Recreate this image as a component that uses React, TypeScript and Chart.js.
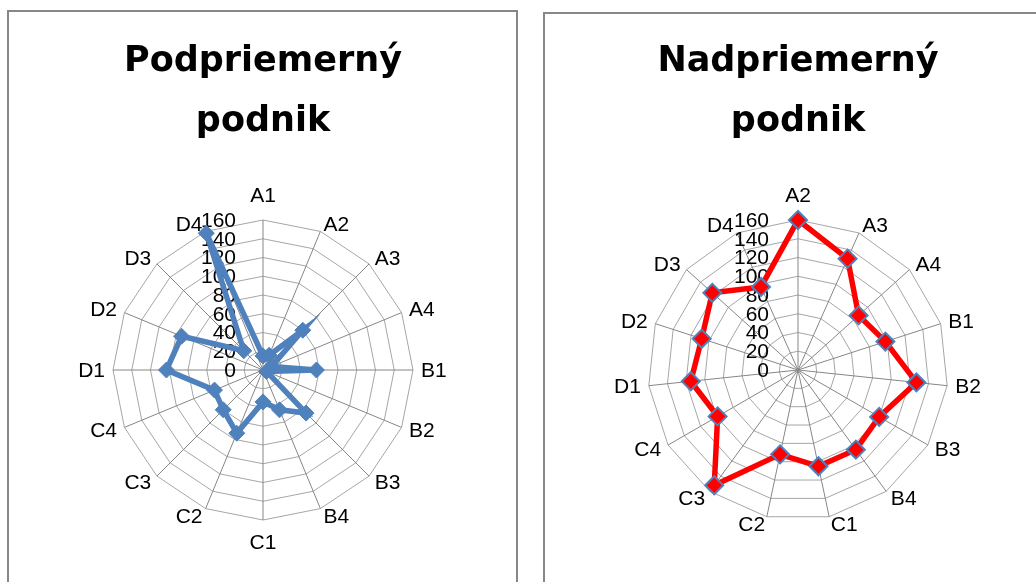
import React, { useEffect, useRef } from "react";
import { Chart, registerables } from "chart.js";

Chart.register(...registerables);

// ---------- data ----------
const LEFT_TITLE = ["Podpriemerný", "podnik"];
const LEFT_LABELS = ["A1", "A2", "A3", "A4", "B1", "B2", "B3", "B4", "C1", "C2", "C3", "C4", "D1", "D2", "D3", "D4"];
const LEFT_VALUES = [15, 17, 60, 10, 57, 4, 65, 46, 34, 73, 60, 56, 103, 94, 29, 158];

const RIGHT_TITLE = ["Nadpriemerný", "podnik"];
const RIGHT_LABELS = ["A2", "A3", "A4", "B1", "B2", "B3", "B4", "C1", "C2", "C3", "C4", "D1", "D2", "D3", "D4"];
const RIGHT_VALUES = [160, 130, 87, 98, 127, 100, 105, 105, 92, 152, 99, 115, 108, 123, 97];

const TICK_VALUES = [0, 20, 40, 60, 80, 100, 120, 140, 160];

const LABEL_FONT = '21px "Liberation Sans"';

// Excel-like placement of tick labels and category labels, using the radial scale's positions
const labelsPlugin = {
  id: "excelLabels",
  beforeDatasetsDraw(chart: any, _args: any, opts: any) {
    const scale = chart.scales.r;
    const ctx = chart.ctx;
    ctx.save();
    ctx.fillStyle = "#000";
    ctx.font = LABEL_FONT;

    // tick labels, left of the vertical axis
    ctx.textAlign = "right";
    ctx.textBaseline = "middle";
    TICK_VALUES.forEach((v) => {
      const d = scale.getDistanceFromCenterForValue(v);
      ctx.fillText(String(v), scale.xCenter - (opts.offset ?? 28), scale.yCenter - d + 1);
    });

    // category labels
    const labels: string[] = chart.data.labels;
    labels.forEach((lab, i) => {
      let deg = (scale.getIndexAngle(i) * 180) / Math.PI;
      deg = ((deg % 360) + 360) % 360;
      const isTop = Math.abs(deg) < 0.5 || Math.abs(deg - 360) < 0.5;
      const isBottom = Math.abs(deg - 180) < 0.5;
      if (isTop || isBottom) {
        const p = scale.getPointPosition(i, scale.drawingArea + 11);
        ctx.textAlign = "center";
        ctx.fillText(lab, p.x, p.y + (isTop ? -12.5 : 12.5));
      } else {
        const p = scale.getPointPosition(i, scale.drawingArea + 8);
        ctx.textAlign = deg < 180 ? "left" : "right";
        ctx.fillText(lab, p.x, p.y + 1);
      }
    });
    ctx.restore();
  },
};

type Cfg = {
  title: string[];
  labels: string[];
  values: number[];
  lineColor: string;
  pointFill: string;
  pointBorder: string;
  pointRadius: number;
  pointBorderWidth: number;
  padding: { left: number; right: number; top: number; bottom: number };
  titlePadTop: number;
  titlePadBottom: number;
  width: number;
  height: number;
  tickOffset: number;
};

function RadarBox({ cfg }: { cfg: Cfg }) {
  const ref = useRef<HTMLCanvasElement | null>(null);
  useEffect(() => {
    if (!ref.current) return;
    const chart = new Chart(ref.current, {
      type: "radar",
      data: {
        labels: cfg.labels,
        datasets: [
          {
            data: cfg.values,
            borderColor: cfg.lineColor,
            borderWidth: 5.5,
            backgroundColor: "transparent",
            fill: false,
            pointStyle: "rectRot",
            pointRadius: cfg.pointRadius,
            pointBackgroundColor: cfg.pointFill,
            pointBorderColor: cfg.pointBorder,
            pointBorderWidth: cfg.pointBorderWidth,
            tension: 0,
          },
        ],
      },
      plugins: [labelsPlugin],
      options: {
        responsive: false,
        animation: false,
        layout: { padding: cfg.padding },
        plugins: {
          legend: { display: false },
          tooltip: { enabled: false },
          title: {
            display: true,
            text: cfg.title,
            color: "#000",
            font: { family: '"DejaVu Sans"', size: 35, weight: "bold", lineHeight: "60px" } as any,
            padding: { top: cfg.titlePadTop, bottom: cfg.titlePadBottom },
          },
          excelLabels: { offset: cfg.tickOffset },
        } as any,
        scales: {
          r: {
            min: 0,
            max: 160,
            ticks: { stepSize: 20, display: false },
            grid: { color: "#a6a6a6", lineWidth: 1 },
            angleLines: { color: "#868686", lineWidth: 1 },
            pointLabels: { display: false },
          },
        },
      },
    });
    return () => chart.destroy();
  }, [cfg]);
  return <canvas ref={ref} width={cfg.width} height={cfg.height} style={{ display: "block" }} />;
}

const leftCfg: Cfg = {
  title: LEFT_TITLE,
  labels: LEFT_LABELS,
  values: LEFT_VALUES,
  lineColor: "#4F81BD",
  pointFill: "#4F81BD",
  pointBorder: "#4F81BD",
  pointRadius: 8,
  pointBorderWidth: 1,
  padding: { left: 34, right: 33, top: 0, bottom: 62 },
  titlePadTop: 20,
  titlePadBottom: 68,
  width: 507,
  height: 570,
  tickOffset: 27,
};

const rightCfg: Cfg = {
  title: RIGHT_TITLE,
  labels: RIGHT_LABELS,
  values: RIGHT_VALUES,
  lineColor: "#FF0000",
  pointFill: "#FF0000",
  pointBorder: "#4F81BD",
  pointRadius: 9,
  pointBorderWidth: 2,
  padding: { left: 33, right: 18, top: 0, bottom: 62 },
  titlePadTop: 18,
  titlePadBottom: 68,
  width: 491,
  height: 568,
  tickOffset: 29,
};

export default function App() {
  return (
    <div
      style={{
        position: "fixed",
        left: 0,
        top: 0,
        width: 1036,
        height: 582,
        overflow: "hidden",
        background: "#fff",
      }}
    >
      <div
        style={{
          position: "absolute",
          left: 7,
          top: 10,
          width: 511,
          height: 600,
          border: "2px solid #878787",
          boxSizing: "border-box",
        }}
      >
        <RadarBox cfg={leftCfg} />
      </div>
      <div
        style={{
          position: "absolute",
          left: 543,
          top: 12,
          width: 520,
          height: 600,
          border: "2px solid #878787",
          boxSizing: "border-box",
        }}
      >
        <RadarBox cfg={rightCfg} />
      </div>
    </div>
  );
}
